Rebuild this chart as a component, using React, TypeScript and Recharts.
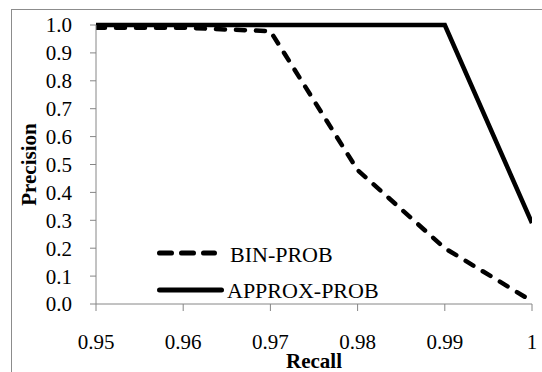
import { LineChart, Line, XAxis, YAxis, Legend, Label } from "recharts";

const recall = [0.95, 0.96, 0.97, 0.98, 0.99, 1];
const binProb = [0.99, 0.99, 0.978, 0.48, 0.2, 0.01];
const approxProb = [1.0, 1.0, 1.0, 1.0, 1.0, 0.29];
const xTicks = [0.95, 0.96, 0.97, 0.98, 0.99, 1];
const yTicks = [0, 0.1, 0.2, 0.3, 0.4, 0.5, 0.6, 0.7, 0.8, 0.9, 1.0];

const data = recall.map((r, i) => ({
  recall: r,
  bin: binProb[i],
  approx: approxProb[i],
}));

const FONT = "Liberation Serif";
const AXIS = "#868686";
const tickStyle = { fill: "#000", fontSize: 21, style: { fontFamily: FONT } };

const LegendBox = () => (
  <svg width={260} height={80} style={{ display: "block" }}>
    <line x1={9.5} x2={64.5} y1={17} y2={17} stroke="#000" strokeWidth={5}
      strokeDasharray="12 10" strokeLinecap="round" />
    <text x={80} y={25.7} style={{ fontFamily: FONT }} fontSize={22} fill="#000">BIN-PROB</text>
    <line x1={9.5} x2={71.5} y1={54} y2={54} stroke="#000" strokeWidth={5}
      strokeLinecap="round" />
    <text x={77} y={62} style={{ fontFamily: FONT }} fontSize={22} fill="#000">APPROX-PROB</text>
  </svg>
);

export default function App() {
  return (
    <div style={{ position: "absolute", left: 0, top: 0, width: 542, height: 372, background: "#fff", fontFamily: FONT }}>
      <div
        style={{
          position: "absolute",
          left: 11,
          top: 9,
          width: 531,
          height: 363,
          borderTop: "1.5px solid #8c8c8c",
          borderLeft: "1.5px solid #8c8c8c",
          boxSizing: "border-box",
        }}
      />
      <LineChart
        width={542}
        height={372}
        data={data}
        margin={{ top: 25, right: 10, left: 12, bottom: 0 }}
        style={{ position: "absolute", left: 0, top: 0 }}
      >
        <XAxis
          dataKey="recall"
          type="number"
          domain={[0.95, 1]}
          ticks={xTicks}
          interval={0}
          allowDataOverflow
          height={68}
          stroke={AXIS}
          tickSize={7}
          tickMargin={23}
          tick={tickStyle}
          tickFormatter={(v: number) => String(v)}
        >
          <Label
            value="Recall"
            position="insideBottom"
            offset={4}
            style={{ fontFamily: FONT, fontSize: 21, fontWeight: "bold", fill: "#000" }}
          />
        </XAxis>
        <YAxis
          type="number"
          domain={[0, 1]}
          ticks={yTicks}
          interval={0}
          width={84}
          stroke={AXIS}
          tickSize={6}
          tickMargin={18}
          tick={tickStyle}
          tickFormatter={(v: number) => v.toFixed(1)}
        >
          <Label
            content={(props: any) => {
              const vb = props.viewBox || {};
              const x = vb.x + 24;
              const y = vb.y + vb.height / 2;
              return (
                <text
                  x={x}
                  y={y}
                  transform={`rotate(-90 ${x} ${y})`}
                  textAnchor="middle"
                  style={{ fontFamily: FONT, fontWeight: "bold" }}
                  fontSize={21}
                  fill="#000"
                >
                  Precision
                </text>
              );
            }}
          />
        </YAxis>
        <Line
          type="linear"
          dataKey="bin"
          name="BIN-PROB"
          stroke="#000"
          strokeWidth={4.5}
          strokeDasharray="9 11"
          strokeLinecap="round"
          dot={false}
          isAnimationActive={false}
        />
        <Line
          type="linear"
          dataKey="approx"
          name="APPROX-PROB"
          stroke="#000"
          strokeWidth={4.5}
          dot={false}
          isAnimationActive={false}
        />
        <Legend
          layout="horizontal"
          verticalAlign="middle"
          align="center"
          wrapperStyle={{ position: "absolute", left: 150, top: 236, width: 260, height: 80 }}
          content={() => <LegendBox />}
        />
      </LineChart>
    </div>
  );
}
